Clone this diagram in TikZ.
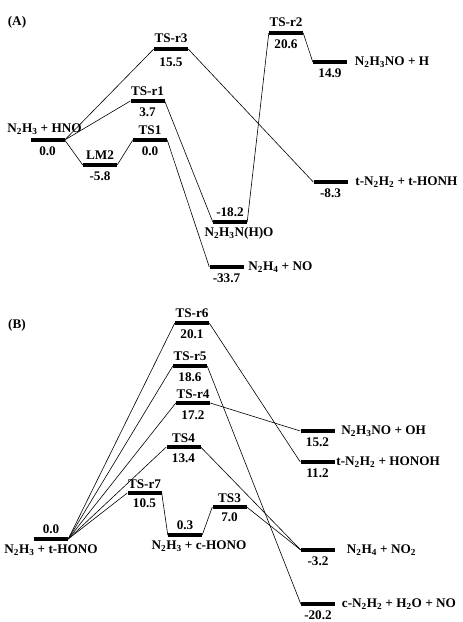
\documentclass[tikz,border=0pt]{standalone}
\usepackage{fontspec}
\setmainfont{Liberation Serif}
\usetikzlibrary{positioning}
\newcommand{\chsub}[1]{\textsubscript{#1}}

\begin{document}
\begin{tikzpicture}[x=1pt, y=-1pt,
	bar/.style={fill=black, inner sep=0pt, minimum width=34pt, minimum height=3.8pt},
	lbl/.style={font=\fontsize{13.2}{15}\selectfont\bfseries, inner sep=0.5pt},
	link/.style={line width=0.6pt}]
	\useasboundingbox (0,0) rectangle (463,622);
	
	% --- (A) N2H3 + HNO ---
	\begin{scope}
		\node[lbl] (tagA) at (17,22) {(A)};
		
		% 能级
		\node[bar] (a0) at (47.5,140) {};
		\node[bar] (lm2) at (100,165) {};
		\node[bar] (ts1) at (150,140) {};
		\node[bar] (tsr1) at (147.5,101) {};
		\node[bar] (tsr3) at (171,49) {};
		\node[bar] (tsr2) at (286,33) {};
		\node[bar] (pa1) at (330,62) {};
		\node[bar] (ima) at (230,222) {};
		\node[bar] (pa2) at (330.5,182) {};
		\node[bar] (pa3) at (226.5,267) {};
		
		% 连线
		\draw[link] (a0.east) -- (tsr3.west);
		\draw[link] (a0.east) -- (tsr1.west);
		\draw[link] (a0.east) -- (lm2.west);
		\draw[link] (lm2.east) -- (ts1.west);
		\draw[link] (ts1.east) -- (pa3.west);
		\draw[link] (tsr1.east) -- (ima.west);
		\draw[link] (ima.east) -- (tsr2.west);
		\draw[link] (tsr2.east) -- (pa1.west);
		\draw[link] (tsr3.east) -- (pa2.west);
		
		% 标注
		\node[lbl, above=3pt of a0, xshift=-3pt] (a0n) {N\chsub{2}H\chsub{3} + HNO};
		\node[lbl, below=4pt of a0] (a0e) {0.0};
		\node[lbl, above=3pt of lm2] (lm2n) {LM2};
		\node[lbl, below=4pt of lm2] (lm2e) {-5.8};
		\node[lbl, above=3pt of ts1] (ts1n) {TS1};
		\node[lbl, below=4pt of ts1] (ts1e) {0.0};
		\node[lbl, above=3pt of tsr1] (tsr1n) {TS-r1};
		\node[lbl, below=4pt of tsr1] (tsr1e) {3.7};
		\node[lbl, above=4pt of tsr3] (tsr3n) {TS-r3};
		\node[lbl, below=6pt of tsr3] (tsr3e) {15.5};
		\node[lbl, above=4pt of tsr2] (tsr2n) {TS-r2};
		\node[lbl, below=4pt of tsr2] (tsr2e) {20.6};
		\node[lbl, below=4pt of pa1] (pa1e) {14.9};
		\node[lbl, right=7pt of pa1] (pa1n) {N\chsub{2}H\chsub{3}NO + H};
		\node[lbl, above=3pt of ima] (imae) {-18.2};
		\node[lbl, below=3pt of ima, xshift=9pt] (iman) {N\chsub{2}H\chsub{3}N(H)O};
		\node[lbl, below=4pt of pa2] (pa2e) {-8.3};
		\node[lbl, right=7pt of pa2] (pa2n) {t-N\chsub{2}H\chsub{2} + t-HONH};
		\node[lbl, below=4pt of pa3] (pa3e) {-33.7};
		\node[lbl, right=4pt of pa3] (pa3n) {N\chsub{2}H\chsub{4} + NO};
	\end{scope}
	
	% --- (B) N2H3 + t-HONO ---
	\begin{scope}
		\node[lbl] (tagB) at (17,325) {(B)};
		
		% 能级
		\node[bar] (b0) at (51,539) {};
		\node[bar] (tsr6) at (192,323) {};
		\node[bar] (tsr5) at (190,366) {};
		\node[bar] (tsr4) at (193,403) {};
		\node[bar] (ts4) at (183.5,447) {};
		\node[bar] (tsr7) at (144.5,493) {};
		\node[bar] (imb) at (185,535) {};
		\node[bar] (ts3) at (229.5,507) {};
		\node[bar] (pb1) at (317.5,431) {};
		\node[bar] (pb2) at (317.5,462) {};
		\node[bar] (pb3) at (318,550) {};
		\node[bar] (pb4) at (318,604) {};
		
		% 连线
		\draw[link] (b0.east) -- (tsr6.west);
		\draw[link] (b0.east) -- (tsr5.west);
		\draw[link] (b0.east) -- (tsr4.west);
		\draw[link] (b0.east) -- (ts4.west);
		\draw[link] (b0.east) -- (tsr7.west);
		\draw[link] (tsr6.east) -- (pb2.west);
		\draw[link] (tsr5.east) -- (pb4.west);
		\draw[link] (tsr4.east) -- (pb1.west);
		\draw[link] (ts4.east) -- (pb3.west);
		\draw[link] (tsr7.east) -- (imb.west);
		\draw[link] (imb.east) -- (ts3.west);
		\draw[link] (ts3.east) -- (pb3.west);
		
		% 标注
		\node[lbl, above=3pt of b0] (b0e) {0.0};
		\node[lbl, below=3pt of b0] (b0n) {N\chsub{2}H\chsub{3} + t-HONO};
		\node[lbl, above=3pt of tsr6] (tsr6n) {TS-r6};
		\node[lbl, below=4pt of tsr6] (tsr6e) {20.1};
		\node[lbl, above=3pt of tsr5] (tsr5n) {TS-r5};
		\node[lbl, below=4pt of tsr5] (tsr5e) {18.6};
		\node[lbl, above=2pt of tsr4] (tsr4n) {TS-r4};
		\node[lbl, below=5pt of tsr4] (tsr4e) {17.2};
		\node[lbl, above=2pt of ts4] (ts4n) {TS4};
		\node[lbl, below=4pt of ts4] (ts4e) {13.4};
		\node[lbl, above=2pt of tsr7] (tsr7n) {TS-r7};
		\node[lbl, below=3pt of tsr7] (tsr7e) {10.5};
		\node[lbl, above=3pt of imb] (imbe) {0.3};
		\node[lbl, below=3pt of imb, xshift=14pt] (imbn) {N\chsub{2}H\chsub{3} + c-HONO};
		\node[lbl, above=2pt of ts3] (ts3n) {TS3};
		\node[lbl, below=3pt of ts3] (ts3e) {7.0};
		\node[lbl, below=4pt of pb1] (pb1e) {15.2};
		\node[lbl, right=6pt of pb1] (pb1n) {N\chsub{2}H\chsub{3}NO + OH};
		\node[lbl, below=4pt of pb2] (pb2e) {11.2};
		\node[lbl, right=1pt of pb2] (pb2n) {t-N\chsub{2}H\chsub{2} + HONOH};
		\node[lbl, below=4pt of pb3] (pb3e) {-3.2};
		\node[lbl, right=11pt of pb3] (pb3n) {N\chsub{2}H\chsub{4} + NO\chsub{2}};
		\node[lbl, below=4pt of pb4] (pb4e) {-20.2};
		\node[lbl, right=6pt of pb4] (pb4n) {c-N\chsub{2}H\chsub{2} + H\chsub{2}O + NO};
	\end{scope}
\end{tikzpicture}
\end{document}
